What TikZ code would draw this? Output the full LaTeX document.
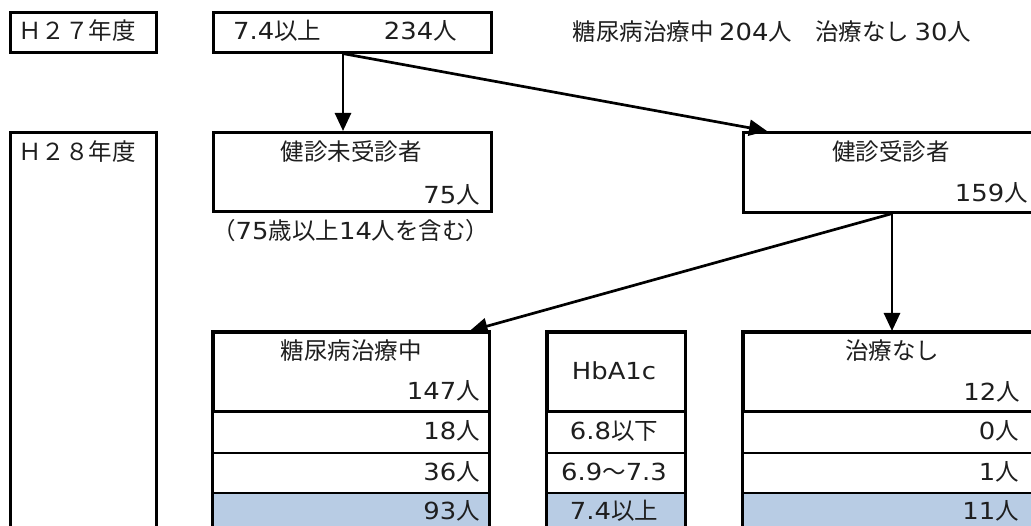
\documentclass[tikz,border=0pt]{standalone}
\usepackage{fontspec}
\setmainfont{Noto Sans CJK JP}
\newfontfamily\lt{DejaVu Sans}[FakeStretch=1.1]
\usetikzlibrary{arrows.meta}
\definecolor{rowblue}{RGB}{184,204,228}
\definecolor{ink}{RGB}{30,30,30}
\begin{document}
\begin{tikzpicture}[x=1pt,y=-1pt,
  box/.style={draw,line width=2.6pt,rectangle,inner sep=0pt,anchor=north west},
  cell/.style={draw,line width=1.9pt,rectangle,inner sep=0pt,anchor=north west},
  txt/.style={inner sep=0pt,text=ink,font=\fontsize{23.5}{28}\selectfont},
  arr/.style={line width=2.7pt,-{Triangle[length=18pt,width=16pt]}}]
\useasboundingbox (0,0) rectangle (1031,526);
\clip (0,0) rectangle (1031,526);
\fill[white] (0,0) rectangle (1031,526);

% top row
\node[box,minimum width=146pt,minimum height=40pt] (h27) at (9,11) {};
\node[txt,anchor=west] (h27t) at (18,31) {Ｈ２７年度};
\node[box,minimum width=278pt,minimum height=40pt] (b234) at (212,11) {};
\node[txt,anchor=west] (b234a) at (233,31) {{\lt 7.4}以上};
\node[txt,anchor=east] (b234b) at (457,31) {{\lt 234}人};
\node[txt] (note1) at (772,32) {糖尿病治療中 {\lt 204}人　治療なし {\lt 30}人};

% second row
\node[box,minimum width=146pt,minimum height=420pt] (h28) at (9,131) {};
\node[txt,anchor=west] (h28t) at (18,152) {Ｈ２８年度};
\node[box,minimum width=278pt,minimum height=79pt] (miju) at (212,131) {};
\node[txt] (mijut) at (351,152) {健診未受診者};
\node[txt,anchor=east] (mijun) at (480,195) {{\lt 75}人};
\node[txt,anchor=west] (mijunote) at (212,231) {（{\lt 75}歳以上{\lt 14}人を含む）};
\node[box,minimum width=298pt,minimum height=80pt] (jushin) at (742,131) {};
\node[txt] (jushint) at (891,152) {健診受診者};
\node[txt,anchor=east] (jushinn) at (1028,193) {{\lt 159}人};

% table: diabetes treatment
\node[cell,minimum width=276pt,minimum height=42pt] (tr1) at (212,410) {};
\node[cell,minimum width=276pt,minimum height=40pt] (tr2) at (212,452) {};
\node[cell,fill=rowblue,minimum width=276pt,minimum height=40pt] (tr3) at (212,492) {};
\node[box,minimum width=276pt,minimum height=79pt] (tiryo) at (212,331) {};
\draw[line width=2.6pt] (tiryo.north west) rectangle (tr3.south east);
\node[txt] (tiryot) at (351,351) {糖尿病治療中};
\node[txt,anchor=east] (tiryon) at (480,391) {{\lt 147}人};
\node[txt,anchor=east] (tr1t) at (480,431) {{\lt 18}人};
\node[txt,anchor=east] (tr2t) at (480,472) {{\lt 36}人};
\node[txt,anchor=east] (tr3t) at (480,511) {{\lt 93}人};

% table: HbA1c
\node[cell,minimum width=138pt,minimum height=42pt] (hr1) at (546,410) {};
\node[cell,minimum width=138pt,minimum height=40pt] (hr2) at (546,452) {};
\node[cell,fill=rowblue,minimum width=138pt,minimum height=40pt] (hr3) at (546,492) {};
\node[box,minimum width=138pt,minimum height=79pt] (hba) at (546,331) {};
\draw[line width=2.6pt] (hba.north west) rectangle (hr3.south east);
\node[txt] (hbat) at (614,371) {{\lt HbA1c}};
\node[txt] (hr1t) at (614,431) {{\lt 6.8}以下};
\node[txt] (hr2t) at (614,472) {{\lt 6.9}～{\lt 7.3}};
\node[txt] (hr3t) at (614,511) {{\lt 7.4}以上};

% table: no treatment
\node[cell,minimum width=298pt,minimum height=42pt] (nr1) at (742,410) {};
\node[cell,minimum width=298pt,minimum height=40pt] (nr2) at (742,452) {};
\node[cell,fill=rowblue,minimum width=298pt,minimum height=40pt] (nr3) at (742,492) {};
\node[box,minimum width=298pt,minimum height=79pt] (nashi) at (742,331) {};
\draw[line width=2.6pt] (nashi.north west) rectangle (nr3.south east);
\node[txt] (nashit) at (892,351) {治療なし};
\node[txt,anchor=east] (nashin) at (1020,392) {{\lt 12}人};
\node[txt,anchor=east] (nr1t) at (1019,431) {{\lt 0}人};
\node[txt,anchor=east] (nr2t) at (1019,472) {{\lt 1}人};
\node[txt,anchor=east] (nr3t) at (1019,511) {{\lt 11}人};

% connectors
\draw[arr] ([xshift=131pt]b234.south west) -- ([xshift=131pt]miju.north west);
\draw[arr] ([xshift=131pt]b234.south west) -- ([xshift=25pt]jushin.north west);
\draw[arr] ([xshift=150pt]jushin.south west) -- ([xshift=150pt]nashi.north west);
\draw[arr] ([xshift=150pt]jushin.south west) -- ([xshift=-21pt]tiryo.north east);
\end{tikzpicture}
\end{document}
